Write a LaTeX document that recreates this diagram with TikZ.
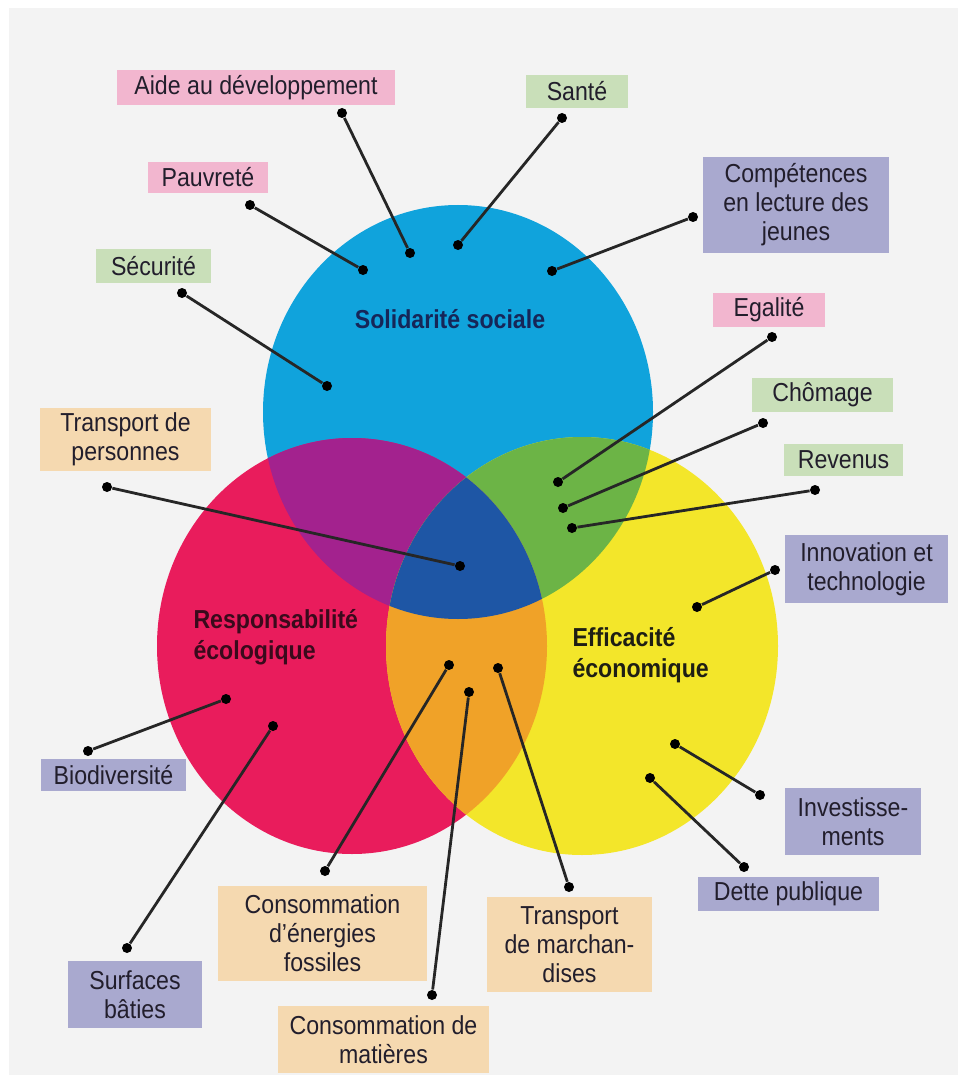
\documentclass[tikz,border=0pt]{standalone}
\usepackage{fontspec}
\setmainfont{Liberation Sans}[FakeStretch=0.89]

\definecolor{paper}{RGB}{243,243,243}
\definecolor{socblue}{RGB}{16,163,220}
\definecolor{ecored}{RGB}{233,28,92}
\definecolor{ecoyellow}{RGB}{243,230,42}
\definecolor{mixpurple}{RGB}{163,34,142}
\definecolor{mixgreen}{RGB}{108,180,70}
\definecolor{mixorange}{RGB}{240,162,40}
\definecolor{mixnavy}{RGB}{30,86,165}
\definecolor{pinkbox}{RGB}{242,182,207}
\definecolor{greenbox}{RGB}{201,223,185}
\definecolor{lilacbox}{RGB}{169,169,207}
\definecolor{sandbox}{RGB}{245,217,176}
\definecolor{labeltext}{RGB}{34,30,44}

\tikzset{every picture/.style={line width=0.75pt}}
\tikzset{
  tag/.style={inner sep=0pt, align=center, text=labeltext, font=\fontsize{19.5}{21.75}\selectfont},
  title/.style={inner sep=0pt, align=left, font=\bfseries\fontsize{19.5}{23.25}\selectfont},
  dot/.style={circle, fill=black, inner sep=0pt, minimum size=7.5pt},
  leader/.style={line width=2.1pt, draw=black!85}
}

\begin{document}
\begin{tikzpicture}[x=0.75pt,y=0.75pt,yscale=-1,xscale=1]
        \useasboundingbox (0,0) rectangle (967,1084);

        %Shape: Rectangle
        \fill [white] (0,0) rectangle (967,1084);
        \fill [paper] (9,8) rectangle (958,1075);

        %Shape: Ellipse
        \fill [socblue] (458,412) ellipse [x radius=195, y radius=207];
        %Shape: Ellipse
        \fill [ecored] (352,646) ellipse [x radius=195, y radius=208];
        %Shape: Ellipse
        \fill [ecoyellow] (582,646) ellipse [x radius=196, y radius=209];

        % Overlaps
        \begin{scope}
          \clip (458,412) ellipse [x radius=195, y radius=207];
          \fill [mixpurple] (352,646) ellipse [x radius=195, y radius=208];
          \fill [mixgreen] (582,646) ellipse [x radius=196, y radius=209];
        \end{scope}
        \begin{scope}
          \clip (352,646) ellipse [x radius=195, y radius=208];
          \clip (582,646) ellipse [x radius=196, y radius=209];
          \fill [mixorange] (0,400) rectangle (967,1084);
          \clip (458,412) ellipse [x radius=195, y radius=207];
          \fill [mixnavy] (0,0) rectangle (967,1084);
        \end{scope}

        % Text Node
        \node (social) [title, text={rgb,255:red,22;green,38;blue,88}] at (450,319) {Solidarité sociale};
        % Text Node
        \node (ecolo) [title, anchor=west, text={rgb,255:red,58;green,10;blue,28}] at (193,637) {Responsabilité\\écologique};
        % Text Node
        \node (econ) [title, anchor=west, text={rgb,255:red,30;green,30;blue,20}] at (572,655) {Efficacité\\économique};

        % Label boxes
        \node (aide) [tag, fill=pinkbox, minimum width=208.5pt, minimum height=26.25pt] at (256,87.5) {Aide au développement};
        \node (pauvrete) [tag, fill=pinkbox, minimum width=90pt, minimum height=23.25pt] at (208,177.5) {Pauvreté};
        \node (securite) [tag, fill=greenbox, minimum width=86.25pt, minimum height=25.5pt] at (153.5,266) {Sécurité};
        \node (sante) [tag, fill=greenbox, minimum width=76.5pt, minimum height=24.75pt] at (577,91.5) {Santé};
        \node (lecture) [tag, fill=lilacbox, minimum width=139.5pt, minimum height=72pt] at (796,205) {Compétences\\en lecture des\\jeunes};
        \node (egalite) [tag, fill=pinkbox, minimum width=84pt, minimum height=25.5pt] at (769,310) {Egalité};
        \node (chomage) [tag, fill=greenbox, minimum width=105.75pt, minimum height=25.5pt] at (822.5,395) {Chômage};
        \node (revenus) [tag, fill=greenbox, minimum width=89.25pt, minimum height=24pt] at (843.5,460) {Revenus};
        \node (innov) [tag, fill=lilacbox, minimum width=122.25pt, minimum height=51pt] at (866.5,569) {Innovation et\\technologie};
        \node (transpers) [tag, fill=sandbox, minimum width=128.25pt, minimum height=47.25pt] at (125.5,439.5) {Transport de\\personnes};
        \node (biodiv) [tag, fill=lilacbox, minimum width=108.75pt, minimum height=24pt] at (113.5,775) {Biodiversité};
        \node (surfaces) [tag, fill=lilacbox, minimum width=100.5pt, minimum height=50.25pt] at (135,994.5) {Surfaces\\bâties};
        \node (energies) [tag, fill=sandbox, minimum width=156.75pt, minimum height=71.25pt] at (322.5,933.5) {Consommation\\d’énergies\\fossiles};
        \node (matieres) [tag, fill=sandbox, minimum width=158.25pt, minimum height=50.25pt] at (383.5,1039.5) {Consommation de\\matières};
        \node (transmarch) [tag, fill=sandbox, minimum width=123.75pt, minimum height=71.25pt] at (569.5,944.5) {Transport\\de marchan-\\dises};
        \node (invest) [tag, fill=lilacbox, minimum width=102pt, minimum height=50.25pt] at (853,821.5) {Investisse-\\ments};
        \node (dette) [tag, fill=lilacbox, minimum width=135.75pt, minimum height=25.5pt] at (788.5,894) {Dette publique};

        % Leader dots
        \node (aide-o) [dot] at (342,113) {};       \node (aide-i) [dot] at (410,253) {};
        \node (pauvrete-o) [dot] at (250,205) {};   \node (pauvrete-i) [dot] at (363,270) {};
        \node (securite-o) [dot] at (182,293) {};   \node (securite-i) [dot] at (327,386) {};
        \node (sante-o) [dot] at (562,118) {};      \node (sante-i) [dot] at (458,245) {};
        \node (lecture-o) [dot] at (693,217) {};    \node (lecture-i) [dot] at (552,271) {};
        \node (egalite-o) [dot] at (772,337) {};    \node (egalite-i) [dot] at (558,482) {};
        \node (chomage-o) [dot] at (763,423) {};    \node (chomage-i) [dot] at (563,508) {};
        \node (revenus-o) [dot] at (815,490) {};    \node (revenus-i) [dot] at (572,528) {};
        \node (innov-o) [dot] at (775,570) {};      \node (innov-i) [dot] at (697,607) {};
        \node (transpers-o) [dot] at (107,487) {};  \node (transpers-i) [dot] at (460,566) {};
        \node (biodiv-o) [dot] at (88,751) {};      \node (biodiv-i) [dot] at (226,699) {};
        \node (surfaces-o) [dot] at (127,948) {};   \node (surfaces-i) [dot] at (273,726) {};
        \node (energies-o) [dot] at (325,871) {};   \node (energies-i) [dot] at (449,665) {};
        \node (matieres-o) [dot] at (432,995) {};   \node (matieres-i) [dot] at (469,692) {};
        \node (transmarch-o) [dot] at (569,887) {}; \node (transmarch-i) [dot] at (498,668) {};
        \node (invest-o) [dot] at (760,795) {};     \node (invest-i) [dot] at (675,744) {};
        \node (dette-o) [dot] at (744,867) {};      \node (dette-i) [dot] at (650,778) {};

        % Leaders
        \draw [leader] (aide-o) -- (aide-i);
        \draw [leader] (pauvrete-o) -- (pauvrete-i);
        \draw [leader] (securite-o) -- (securite-i);
        \draw [leader] (sante-o) -- (sante-i);
        \draw [leader] (lecture-o) -- (lecture-i);
        \draw [leader] (egalite-o) -- (egalite-i);
        \draw [leader] (chomage-o) -- (chomage-i);
        \draw [leader] (revenus-o) -- (revenus-i);
        \draw [leader] (innov-o) -- (innov-i);
        \draw [leader] (transpers-o) -- (transpers-i);
        \draw [leader] (biodiv-o) -- (biodiv-i);
        \draw [leader] (surfaces-o) -- (surfaces-i);
        \draw [leader] (energies-o) -- (energies-i);
        \draw [leader] (matieres-o) -- (matieres-i);
        \draw [leader] (transmarch-o) -- (transmarch-i);
        \draw [leader] (invest-o) -- (invest-i);
        \draw [leader] (dette-o) -- (dette-i);
    \end{tikzpicture}
\end{document}
